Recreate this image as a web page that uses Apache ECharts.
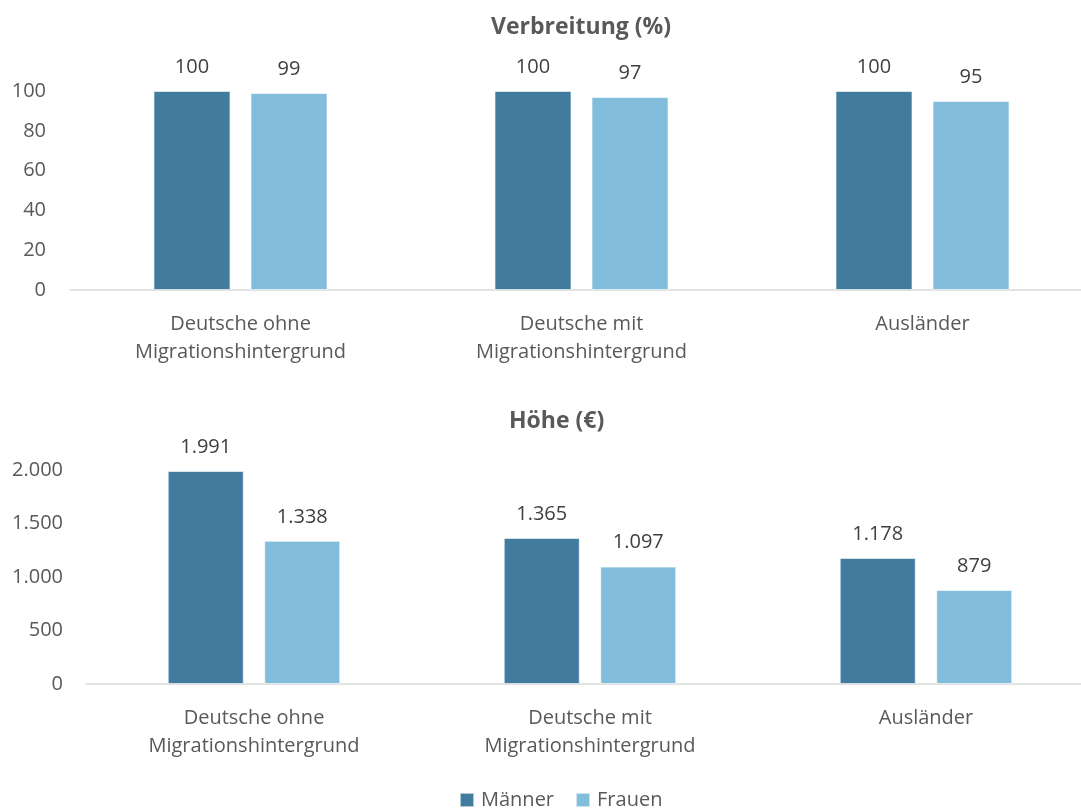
<!DOCTYPE html>
<html><head><meta charset="utf-8">
<script src="https://cdn.jsdelivr.net/npm/echarts@6/dist/echarts.min.js"></script>
<style>html,body{margin:0;padding:0;background:#fff}#c{width:1081px;height:809px}</style>
</head><body><div id="c"></div>
<script>
const categories = ['Deutsche ohne\nMigrationshintergrund', 'Deutsche mit\nMigrationshintergrund', 'Ausländer'];
const seriesNames = ['Männer', 'Frauen'];
const verbreitungMaenner = [100, 100, 100];
const verbreitungFrauen = [99, 97, 95];
const hoeheMaenner = [1991, 1365, 1178];
const hoeheFrauen = [1338, 1097, 879];
const titles = ['Verbreitung (%)', 'Höhe (€)'];

const FONT = '"Open Sans", sans-serif';
const colors = ['#417C9F', '#82BDDB'];
const de = v => String(v).replace(/\B(?=(\d{3})+(?!\d))/g, '.');

const chart = echarts.init(document.getElementById('c'), null, {renderer: 'canvas'});
const xAxisBase = {
  type: 'category', data: categories,
  axisLine: {lineStyle: {color: '#d9d9d9', width: 1.5}},
  axisTick: {show: false},
  axisLabel: {color: '#595959', fontSize: 20, fontFamily: FONT, lineHeight: 28, margin: 20, interval: 0}
};
const yLabel = {color: '#595959', fontSize: 20, fontFamily: FONT};
const barLabel = (fmt) => ({show: true, position: 'top', distance: 14, color: '#404040', fontSize: 20, fontFamily: FONT, formatter: p => fmt(p.value)});
const barItem = {borderColor: 'rgba(255,255,255,0.6)', borderWidth: 1};

chart.setOption({
  animation: false,
  color: colors,
  title: [
    {text: titles[0], left: 486, top: 11, textStyle: {color: '#595959', fontSize: 23, fontWeight: 'bold', fontFamily: FONT}},
    {text: titles[1], left: 504, top: 405, textStyle: {color: '#595959', fontSize: 23, fontWeight: 'bold', fontFamily: FONT}}
  ],
  legend: {
    data: seriesNames, left: 454, top: 785,
    itemWidth: 14, itemHeight: 14, itemGap: 21, icon: 'rect',
    textStyle: {color: '#595959', fontSize: 20, fontFamily: FONT, padding: [0, 0, 0, 2]}
  },
  grid: [
    {left: 70, width: 1023, top: 91, height: 199, outerBoundsMode: 'none', containLabel: false},
    {left: 86, width: 1008, top: 470, height: 214, outerBoundsMode: 'none', containLabel: false}
  ],
  xAxis: [
    Object.assign({gridIndex: 0}, xAxisBase),
    Object.assign({gridIndex: 1}, xAxisBase)
  ],
  yAxis: [
    {gridIndex: 0, min: 0, max: 100, interval: 20, splitLine: {show: false}, axisLine: {show: false}, axisTick: {show: false}, axisLabel: Object.assign({margin: 24}, yLabel)},
    {gridIndex: 1, min: 0, max: 2000, interval: 500, splitLine: {show: false}, axisLine: {show: false}, axisTick: {show: false}, axisLabel: Object.assign({margin: 23, formatter: de}, yLabel)}
  ],
  series: [
    {name: seriesNames[0], type: 'bar', xAxisIndex: 0, yAxisIndex: 0, data: verbreitungMaenner, barWidth: 77, barGap: '26%', label: barLabel(v => v), itemStyle: barItem},
    {name: seriesNames[1], type: 'bar', xAxisIndex: 0, yAxisIndex: 0, data: verbreitungFrauen, barWidth: 77, barGap: '26%', label: barLabel(v => v), itemStyle: barItem},
    {name: seriesNames[0], type: 'bar', xAxisIndex: 1, yAxisIndex: 1, data: hoeheMaenner, barWidth: 76, barGap: '27%', label: barLabel(de), itemStyle: barItem},
    {name: seriesNames[1], type: 'bar', xAxisIndex: 1, yAxisIndex: 1, data: hoeheFrauen, barWidth: 76, barGap: '27%', label: barLabel(de), itemStyle: barItem}
  ]
});
</script></body></html>
